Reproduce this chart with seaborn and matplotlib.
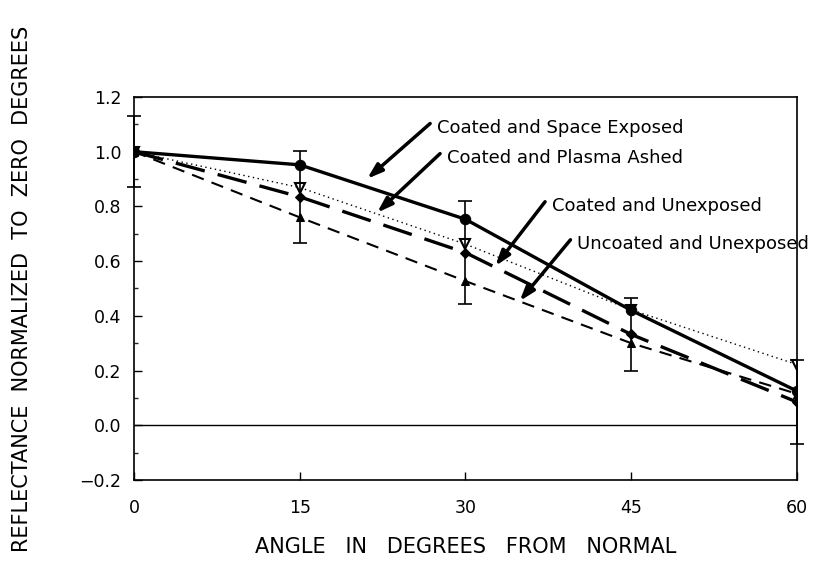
import seaborn as sns
import matplotlib.pyplot as plt
from matplotlib.ticker import MultipleLocator

# angle (degrees) and normalized reflectance
angles = [0, 15, 30, 45, 60]
space_exposed = [1.0, 0.952, 0.753, 0.420, 0.125]
plasma_ashed = [1.0, 0.869, 0.662, 0.422, 0.222]
coated_unexposed = [1.0, 0.835, 0.631, 0.332, 0.085]
uncoated_unexposed = [1.0, 0.760, 0.527, 0.300, 0.115]
coated_err = [0.13, 0.167, 0.187, 0.134, 0.153]

labels = ["Coated and Space Exposed", "Coated and Plasma Ashed",
          "Coated and Unexposed", "Uncoated and Unexposed"]
# (text x, text y, arrow tip x, arrow tip y) in data units
label_pos = [(27.4, 1.088, 21.1, 0.901),
             (28.3, 0.978, 22.0, 0.777),
             (37.8, 0.802, 32.7, 0.582),
             (40.1, 0.663, 34.9, 0.454)]

sns.set_style("ticks")
plt.rcParams['font.family'] = ['DejaVu Sans']
plt.rcParams['text.color'] = 'black'
plt.rcParams['axes.labelcolor'] = 'black'

fig = plt.figure(figsize=(8.15, 5.79), dpi=100)
ax = fig.add_axes([0.1644, 0.171, 0.8135, 0.6615])

# dotted series first so the solid curve's dots sit on top of it
sns.lineplot(x=angles, y=plasma_ashed, ax=ax, color="black", linewidth=1.0,
             linestyle=(0, (1, 2.5)), marker="v", markersize=7.5,
             markerfacecolor="white", markeredgecolor="black", markeredgewidth=1.5)
sns.lineplot(x=angles, y=space_exposed, ax=ax, color="black", linewidth=2.4,
             marker="o", markersize=7.5, markeredgecolor="black")
sns.lineplot(x=angles, y=coated_unexposed, ax=ax, color="black", linewidth=2.4,
             linestyle=(0, (9, 4)), marker="D", markersize=5.5, markeredgecolor="black")
sns.lineplot(x=angles, y=uncoated_unexposed, ax=ax, color="black", linewidth=1.5,
             linestyle=(0, (6, 4)), marker="^", markersize=6, markeredgecolor="black")

ax.errorbar(angles, coated_unexposed, yerr=coated_err, fmt="none",
            ecolor="black", elinewidth=1.2, capsize=5, capthick=1.2, clip_on=False)

ax.axhline(0, color="black", linewidth=1.0)

for lab, (tx, ty, ax_x, ax_y) in zip(labels, label_pos):
    ax.annotate("", xy=(ax_x, ax_y), xytext=(tx - 0.6, ty + 0.015),
                arrowprops=dict(arrowstyle="-|>,head_length=0.9,head_width=0.3",
                                color="black", lw=2.5, shrinkA=0, shrinkB=0))
    ax.text(tx, ty, lab, fontsize=13, ha="left", va="center")

ax.set_xlim(0, 60)
ax.set_ylim(-0.2, 1.2)
ax.set_xticks(angles)
ax.yaxis.set_major_locator(MultipleLocator(0.2))
ax.yaxis.set_minor_locator(MultipleLocator(0.1))
ax.set_yticklabels([f"{v:.1f}".replace("-", "\u2212") for v in ax.get_yticks()])
ax.tick_params(axis="both", direction="in", labelsize=12.5, width=1, length=6,
               colors="black")
ax.tick_params(axis="x", pad=14)
ax.tick_params(axis="y", pad=9)
ax.tick_params(axis="y", which="minor", direction="in", length=3, width=1)

for s in ax.spines.values():
    s.set_linewidth(1.2)
    s.set_color("black")

ax.set_xlabel("ANGLE   IN   DEGREES   FROM   NORMAL", fontsize=15, labelpad=14)
ax.set_ylabel("REFLECTANCE  NORMALIZED  TO  ZERO  DEGREES", fontsize=15,
              labelpad=34)

fig.savefig("out.png", dpi=100)
